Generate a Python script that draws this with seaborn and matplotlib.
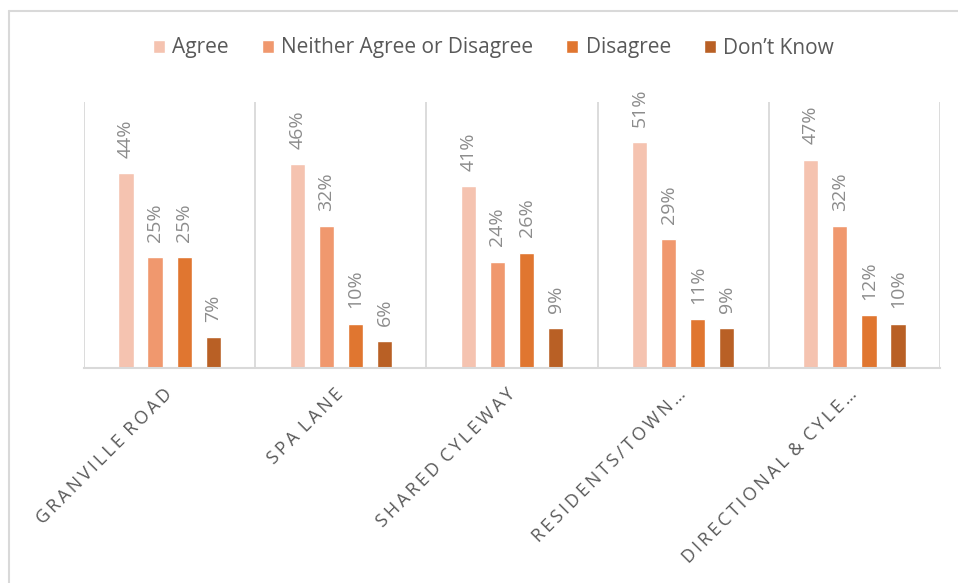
import pandas as pd
import matplotlib
matplotlib.use("Agg")
import matplotlib.pyplot as plt
from matplotlib.lines import Line2D
import seaborn as sns

# data (percent)
regions = ["GRANVILLE ROAD", "SPA LANE", "SHARED CYLEWAY", "RESIDENTS/TOWN\u2026", "DIRECTIONAL & CYLE\u2026"]
responses = ["Agree", "Neither Agree or Disagree", "Disagree", "Don\u2019t Know"]
agree = [44, 46, 41, 51, 47]
neither = [25, 32, 24, 29, 32]
disagree = [25, 10, 26, 11, 12]
dont_know = [7, 6, 9, 9, 10]

colours = ["#F5C3B0", "#F0986E", "#E07630", "#B96025"]

rows = []
for resp, vals in zip(responses, [agree, neither, disagree, dont_know]):
    for reg, v in zip(regions, vals):
        rows.append({"region": reg, "response": resp, "pct": v / 100})
df = pd.DataFrame(rows)

sns.set_style("white")
plt.rcParams["font.family"] = ["Open Sans", "DejaVu Sans"]

fig = plt.figure(figsize=(9.58, 5.83), dpi=100)
ax = fig.add_axes([84 / 958, 1 - 368 / 583, (940 - 84) / 958, (368 - 102) / 583])

sns.barplot(data=df, x="region", y="pct", hue="response", order=regions,
            hue_order=responses, palette=colours, width=0.68, gap=0.48,
            ax=ax, saturation=1, legend=True)

ax.set_ylim(0, 0.6)
ax.set_xlim(-0.5, len(regions) - 0.5)
ax.set_xlabel("")
ax.set_ylabel("")
ax.set_yticks([])

grid = "#D9D9D9"
for s in ["top", "right", "left"]:
    ax.spines[s].set_visible(False)
ax.spines["bottom"].set_color(grid)
ax.spines["bottom"].set_linewidth(1.5)
for i in range(len(regions) + 1):
    ax.axvline(i - 0.5, color=grid, lw=1.3, zorder=0)

# value labels
for cont in ax.containers:
    ax.bar_label(cont, labels=[f"{b.get_height() * 100:.0f}%" for b in cont],
                 rotation=90, padding=11, color="#8C8C8C", fontsize=14)


def spaced(s):
    # mimic Excel's letter-spaced category labels
    return "\u2009 ".join("\u2009".join(w) for w in s.split(" "))


ax.set_xticks(range(len(regions)))
ax.set_xticklabels([spaced(r) for r in regions], rotation=45, ha="right",
                   va="center", rotation_mode="anchor", color="#595959",
                   fontsize=13)
ax.tick_params(axis="x", length=0, pad=17)

handles, labels = ax.get_legend_handles_labels()
ax.get_legend().remove()
fig.legend(handles, labels, loc="center", bbox_to_anchor=(0.515, 1 - 48 / 583),
           ncol=4, frameon=False, fontsize=15, handlelength=0.58,
           handleheight=0.58, handletextpad=0.34, columnspacing=1.6,
           labelcolor="#595959")

# outer chart frame (left and top edges visible)
fig.add_artist(Line2D([9 / 958, 9 / 958], [0, 1 - 11 / 583], color=grid, lw=1.5))
fig.add_artist(Line2D([9 / 958, 1], [1 - 11 / 583, 1 - 11 / 583], color=grid, lw=1.5))

fig.savefig("out.png", dpi=100)
